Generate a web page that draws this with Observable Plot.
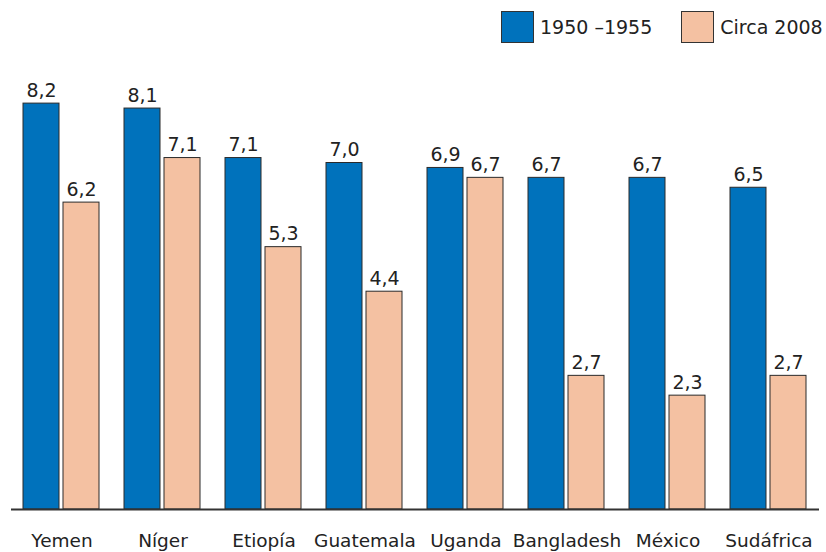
<!DOCTYPE html>
<html>
<head>
<meta charset="utf-8">
<script src="https://cdn.jsdelivr.net/npm/d3@7"></script>
<script src="https://cdn.jsdelivr.net/npm/@observablehq/plot@0.6"></script>
<style>
  body { margin: 0; background: #fff; font-family: "DejaVu Sans", sans-serif; }
  #wrap { position: relative; width: 826px; height: 552px; }
  #legend { position: absolute; top: 11px; left: 501px; display: flex; align-items: center; font-size: 19px; color: #222; white-space: nowrap; }
  .sw { width: 33px; height: 32px; border: 1px solid #333; box-sizing: border-box; margin-right: 6px; flex: none; }
  .item { display: flex; align-items: center; margin-right: 29px; white-space: nowrap; }
</style>
</head>
<body>
<div id="wrap"><div id="legend"></div></div>
<script>
const countries = ["Yemen", "Níger", "Etiopía", "Guatemala", "Uganda", "Bangladesh", "México", "Sudáfrica"];
const v1950 = [8.2, 8.1, 7.1, 7.0, 6.9, 6.7, 6.7, 6.5];
const v2008 = [6.2, 7.1, 5.3, 4.4, 6.7, 2.7, 2.3, 2.7];
const series = ["1950 –1955", "Circa 2008"];
const colors = ["#0072bc", "#f4c1a2"];

const data = [];
countries.forEach((c, i) => {
  data.push({country: c, series: series[0], value: v1950[i]});
  data.push({country: c, series: series[1], value: v2008[i]});
});
const fmt = v => v.toFixed(1).replace(".", ",");

const chart = Plot.plot({
  width: 826,
  height: 552,
  marginTop: 40,
  marginBottom: 43,
  marginLeft: 8,
  marginRight: 4,
  style: {fontFamily: "DejaVu Sans, sans-serif", background: "white"},
  fx: {domain: countries, paddingInner: 24 / 102, paddingOuter: 12 / 102, axis: null},
  x: {domain: series, paddingInner: 4 / 41, paddingOuter: 0, axis: null},
  y: {domain: [0, 469 / 49.5], axis: null},
  color: {domain: series, range: colors},
  marks: [
    Plot.barY(data, {fx: "country", x: "series", y: "value", fill: "series", stroke: "#2a2a2a", strokeWidth: 1}),
    Plot.text(data, {fx: "country", x: "series", y: "value", text: d => fmt(d.value), dy: -13, fontSize: 19, fill: "#222"}),
    Plot.ruleY([0], {stroke: "#333", strokeWidth: 2, insetLeft: -12, insetRight: -12}),
    Plot.axisFx({anchor: "bottom", tickSize: 0, tickPadding: 24, fontSize: 18.5, label: null, fill: "#222"})
  ]
});
document.getElementById("wrap").prepend(chart);

const legend = document.getElementById("legend");
series.forEach((s, i) => {
  const item = document.createElement("div");
  item.className = "item";
  const sw = document.createElement("div");
  sw.className = "sw";
  sw.style.background = colors[i];
  const t = document.createElement("span");
  t.textContent = s;
  item.append(sw, t);
  legend.append(item);
});
</script>
</body>
</html>
